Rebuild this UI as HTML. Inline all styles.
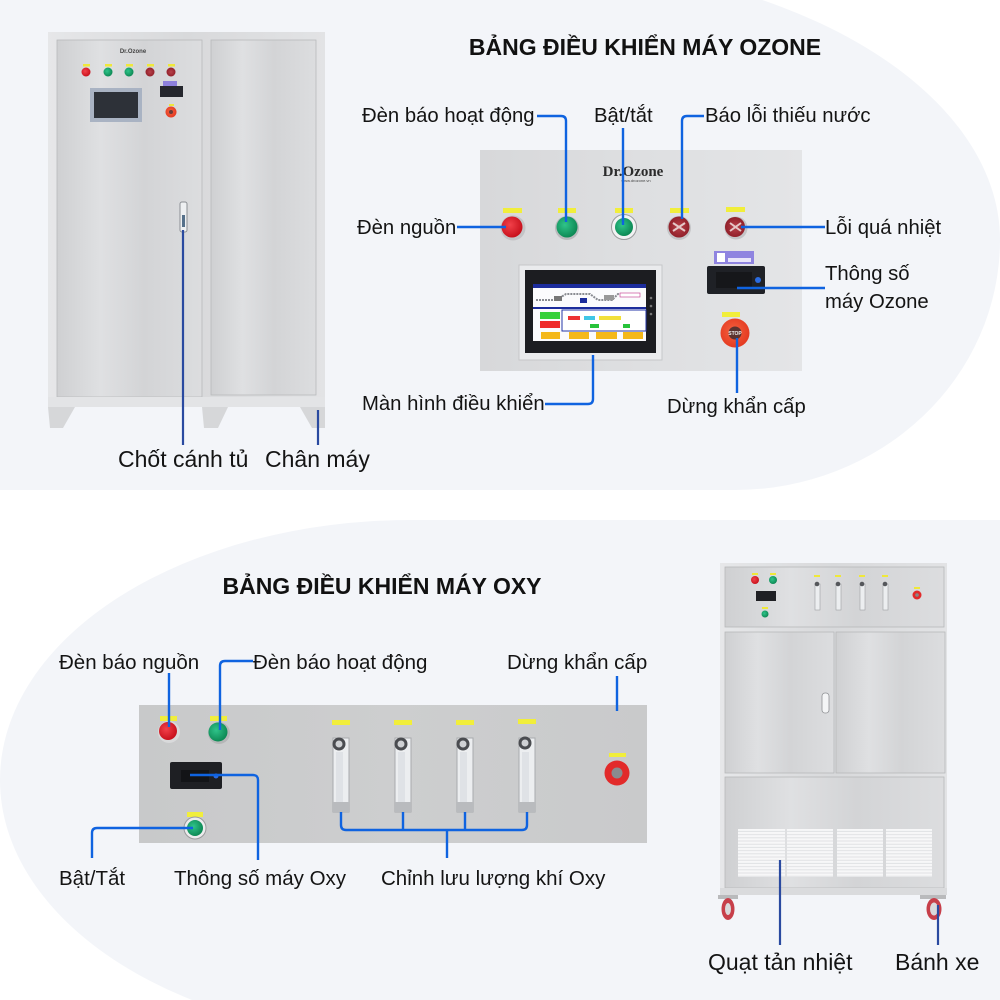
<!DOCTYPE html>
<html>
<head>
<meta charset="utf-8">
<style>
html,body{margin:0;padding:0;background:#ffffff;}
svg{display:block;}
text{font-family:"Liberation Sans",Arial,sans-serif;fill:#141414;}
</style>
</head>
<body>
<svg width="1000" height="1000" viewBox="0 0 1000 1000" xmlns="http://www.w3.org/2000/svg">
<defs>
  <linearGradient id="steel" x1="0" y1="0" x2="1" y2="0">
    <stop offset="0" stop-color="#cfd0d2"/>
    <stop offset="0.3" stop-color="#dfe0e2"/>
    <stop offset="0.6" stop-color="#d3d4d6"/>
    <stop offset="1" stop-color="#dcdddf"/>
  </linearGradient>
  <linearGradient id="frame" x1="0" y1="0" x2="1" y2="0">
    <stop offset="0" stop-color="#e6e7e9"/>
    <stop offset="0.5" stop-color="#d8d9db"/>
    <stop offset="1" stop-color="#e2e3e5"/>
  </linearGradient>
  <linearGradient id="panelTop" x1="0" y1="0" x2="1" y2="0">
    <stop offset="0" stop-color="#d7d8da"/>
    <stop offset="0.5" stop-color="#dedfe1"/>
    <stop offset="1" stop-color="#e4e5e7"/>
  </linearGradient>
  <linearGradient id="panelBot" x1="0" y1="0" x2="1" y2="0">
    <stop offset="0" stop-color="#c8c9ca"/>
    <stop offset="0.5" stop-color="#cdcecf"/>
    <stop offset="1" stop-color="#c9cacb"/>
  </linearGradient>
  <radialGradient id="red" cx="0.4" cy="0.4" r="0.6">
    <stop offset="0" stop-color="#f2414a"/>
    <stop offset="1" stop-color="#c9121d"/>
  </radialGradient>
  <radialGradient id="green" cx="0.4" cy="0.4" r="0.6">
    <stop offset="0" stop-color="#2fc48a"/>
    <stop offset="1" stop-color="#0e8a55"/>
  </radialGradient>
  <radialGradient id="dred" cx="0.5" cy="0.5" r="0.6">
    <stop offset="0" stop-color="#b8414a"/>
    <stop offset="1" stop-color="#8a1a24"/>
  </radialGradient>
  <radialGradient id="stop" cx="0.45" cy="0.45" r="0.6">
    <stop offset="0" stop-color="#f5623f"/>
    <stop offset="1" stop-color="#e3371f"/>
  </radialGradient>
  <pattern id="vent" width="10" height="3.2" patternUnits="userSpaceOnUse">
    <rect width="10" height="3.2" fill="#f7f7f8"/>
    <rect y="2.2" width="10" height="0.8" fill="#dcdde0"/>
  </pattern>
</defs>

<!-- backgrounds -->
<path d="M0,-40 H510 A490,280 0 0 1 1000,240 A265,250 0 0 1 735,490 H0 Z" fill="#f3f5f9"/>
<path d="M1000,520 H411 A411,260 0 0 0 0,780 A411,260 0 0 0 411,1040 H1000 Z" fill="#f3f5f9"/>

<!-- ================= TOP LEFT CABINET ================= -->
<rect x="48" y="32" width="277" height="375" fill="url(#frame)"/>
<rect x="57" y="40" width="145" height="357" fill="url(#steel)" stroke="#b8b9bb" stroke-width="0.8"/>
<rect x="211" y="40" width="105" height="355" fill="url(#steel)" stroke="#b8b9bb" stroke-width="0.8"/>
<rect x="48" y="397" width="277" height="10" fill="#e3e4e6"/>
<polygon points="48,407 75,407 63,428 50,428" fill="#d6d7d9"/>
<polygon points="202,407 228,407 218,428 204,428" fill="#d6d7d9"/>
<polygon points="300,407 325,407 325,428 312,428" fill="#d6d7d9"/>
<text x="133" y="53" font-size="6" text-anchor="middle" font-weight="bold" style="fill:#444">Dr.Ozone</text>
<!-- small buttons -->
<g>
  <rect x="83" y="64" width="7" height="2.5" fill="#efe83a"/>
  <rect x="105" y="64" width="7" height="2.5" fill="#efe83a"/>
  <rect x="126" y="64" width="7" height="2.5" fill="#efe83a"/>
  <rect x="147" y="64" width="7" height="2.5" fill="#efe83a"/>
  <rect x="168" y="64" width="7" height="2.5" fill="#efe83a"/>
  <circle cx="86" cy="72" r="4.5" fill="url(#red)"/>
  <circle cx="108" cy="72" r="4.5" fill="url(#green)"/>
  <circle cx="129" cy="72" r="4.5" fill="url(#green)"/>
  <circle cx="150" cy="72" r="4.5" fill="url(#dred)"/>
  <circle cx="171" cy="72" r="4.5" fill="url(#dred)"/>
</g>
<rect x="90" y="88" width="52" height="34" fill="#a9b3c3"/>
<rect x="94" y="92" width="44" height="26" fill="#2d3138"/>
<rect x="163" y="81" width="14" height="5" fill="#8d80dc"/>
<rect x="160" y="86" width="23" height="11" fill="#25272d"/>
<rect x="169" y="104" width="5" height="2" fill="#efe83a"/>
<circle cx="171" cy="112" r="5.5" fill="url(#stop)"/>
<circle cx="171" cy="112" r="2" fill="#6a3b38"/>
<rect x="180" y="202" width="7" height="30" rx="2" fill="#eef0f2" stroke="#8c8f94" stroke-width="1"/>
<rect x="182" y="215" width="3" height="12" fill="#55708a"/>
<!-- lines -->
<path d="M183,230 V445" stroke="#2a4aa0" stroke-width="2.2" fill="none"/>
<path d="M318,410 V445" stroke="#2a4aa0" stroke-width="2.2" fill="none"/>
<text x="118" y="467" font-size="23">Chốt cánh tủ</text>
<text x="265" y="467" font-size="23">Chân máy</text>

<!-- ================= TOP PANEL ================= -->
<text x="645" y="55" font-size="23" font-weight="bold" text-anchor="middle" style="fill:#111">BẢNG ĐIỀU KHIỂN MÁY OZONE</text>
<rect x="480" y="150" width="322" height="221" fill="url(#panelTop)"/>
<text x="633" y="176" font-size="15" font-weight="bold" text-anchor="middle" style="fill:#2b2b2b;font-family:'Liberation Serif',serif">Dr.Ozone</text>
<text x="636" y="182" font-size="4" text-anchor="middle" style="fill:#444">www.drozone.vn</text>
<!-- yellow labels -->
<rect x="503" y="208" width="19" height="5" fill="#f1ee3b"/>
<rect x="558" y="208" width="18" height="5" fill="#f1ee3b"/>
<rect x="615" y="208" width="18" height="5" fill="#f1ee3b"/>
<rect x="670" y="208" width="19" height="5" fill="#f1ee3b"/>
<rect x="726" y="207" width="19" height="5" fill="#f1ee3b"/>
<!-- buttons -->
<circle cx="513" cy="228" r="12.5" fill="#c3c4c6"/>
<circle cx="512" cy="227" r="10.5" fill="url(#red)"/>
<circle cx="567" cy="228" r="12" fill="#b9babc"/>
<circle cx="567" cy="227" r="10.5" fill="url(#green)"/>
<circle cx="624" cy="227" r="12.5" fill="#f2f2f3" stroke="#9b9c9e" stroke-width="1"/>
<circle cx="624" cy="227" r="9" fill="url(#green)"/>
<circle cx="679" cy="228" r="12" fill="#c4c5c7"/>
<circle cx="679" cy="227" r="10.5" fill="url(#dred)"/>
<path d="M673,223 L685,231 M673,231 L685,223" stroke="#e5c8c8" stroke-width="2"/>
<circle cx="736" cy="228" r="11.5" fill="#c4c5c7"/>
<circle cx="735" cy="227" r="10" fill="url(#dred)"/>
<path d="M730,223 L741,231 M730,231 L741,223" stroke="#e5c8c8" stroke-width="2"/>
<!-- HMI screen -->
<rect x="519" y="265" width="143" height="95" fill="#eaebed" stroke="#c6c7c9" stroke-width="1"/>
<rect x="525" y="270" width="131" height="83" fill="#1c1d21"/>
<rect x="533" y="284" width="113" height="57" fill="#fbfbfd"/>
<rect x="533" y="284" width="113" height="4" fill="#1c2c9c"/>
<path d="M536,300 H556 L566,294 H590 L598,300 H612 L618,294 H640" stroke="#8a8c92" stroke-width="2" fill="none" stroke-dasharray="2,1"/>
<rect x="554" y="296" width="8" height="5" fill="#777"/>
<rect x="580" y="298" width="7" height="5" fill="#1c2c9c"/>
<rect x="604" y="295" width="10" height="5" fill="#999"/>
<rect x="620" y="293" width="20" height="4" fill="#fff" stroke="#c0308a" stroke-width="0.6"/>
<rect x="533" y="307" width="113" height="2" fill="#1c2c9c"/>
<rect x="540" y="312" width="20" height="7" fill="#36d03a"/>
<rect x="540" y="321" width="20" height="7" fill="#ef2a2a"/>
<rect x="562" y="310" width="84" height="21" fill="#ffffff" stroke="#2637a8" stroke-width="1"/>
<rect x="568" y="316" width="12" height="4" fill="#e33"/>
<rect x="584" y="316" width="11" height="4" fill="#3fc6e6"/>
<rect x="599" y="316" width="22" height="4" fill="#f2e03a"/>
<rect x="590" y="324" width="9" height="4" fill="#27c33a"/>
<rect x="623" y="324" width="7" height="4" fill="#27c33a"/>
<rect x="541" y="332" width="19" height="7" fill="#f4b81a"/>
<rect x="569" y="332" width="20" height="7" fill="#f4b81a"/>
<rect x="596" y="332" width="21" height="7" fill="#f4b81a"/>
<rect x="623" y="332" width="20" height="7" fill="#f4b81a"/>
<circle cx="651" cy="298" r="1.3" fill="#777"/>
<circle cx="651" cy="306" r="1.3" fill="#777"/>
<circle cx="651" cy="314" r="1.3" fill="#777"/>
<!-- display device -->
<rect x="714" y="251" width="40" height="13" fill="#8f84e0"/>
<rect x="717" y="253" width="8" height="9" fill="#ffffff"/>
<rect x="728" y="258" width="23" height="4" fill="#ffffff" opacity="0.8"/>
<rect x="707" y="266" width="58" height="28" rx="2" fill="#1f2126"/>
<rect x="716" y="272" width="36" height="16" fill="#16171a"/>
<circle cx="758" cy="280" r="3" fill="#2a6be0"/>
<!-- stop -->
<rect x="722" y="312" width="18" height="5" fill="#f1ee3b"/>
<circle cx="735" cy="333" r="14.5" fill="url(#stop)"/>
<circle cx="735" cy="333" r="6.5" fill="#5b3330"/>
<text x="735" y="335" font-size="5" text-anchor="middle" font-weight="bold" style="fill:#eee">STOP</text>
<!-- top lines -->
<g stroke="#0f63e0" stroke-width="2.4" fill="none">
  <path d="M537,116 H561 Q566,116 566,121 V222"/>
  <path d="M623,128 V225"/>
  <path d="M704,116 H687 Q682,116 682,121 V219"/>
  <path d="M457,227 H506"/>
  <path d="M741,227 H825"/>
  <path d="M737,288 H825"/>
  <path d="M545,404 H588 Q593,404 593,399 V355"/>
  <path d="M737,338 V393"/>
</g>
<g font-size="20.3">
  <text x="362" y="122">Đèn báo hoạt động</text>
  <text x="594" y="122">Bật/tắt</text>
  <text x="705" y="122">Báo lỗi thiếu nước</text>
  <text x="357" y="234">Đèn nguồn</text>
  <text x="825" y="234">Lỗi quá nhiệt</text>
  <text x="825" y="280">Thông số</text>
  <text x="825" y="308">máy Ozone</text>
  <text x="362" y="410">Màn hình điều khiển</text>
  <text x="667" y="413">Dừng khẩn cấp</text>
</g>

<!-- ================= BOTTOM PANEL (OXY) ================= -->
<text x="382" y="594" font-size="23" font-weight="bold" text-anchor="middle" style="fill:#111">BẢNG ĐIỀU KHIỂN MÁY OXY</text>
<rect x="139" y="705" width="508" height="138" fill="url(#panelBot)"/>
<rect x="160" y="716" width="17" height="5" fill="#f1ee3b"/>
<rect x="210" y="716" width="17" height="5" fill="#f1ee3b"/>
<circle cx="169" cy="732" r="11" fill="#d9dadb"/>
<circle cx="168" cy="731" r="9" fill="url(#red)"/>
<circle cx="219" cy="733" r="11" fill="#b5b6b7"/>
<circle cx="218" cy="732" r="9.5" fill="url(#green)"/>
<rect x="170" y="762" width="52" height="27" rx="2" fill="#1e1f23"/>
<rect x="181" y="770" width="28" height="12" fill="#131417"/>
<circle cx="216" cy="776" r="2.5" fill="#2a6be0"/>
<rect x="187" y="812" width="16" height="5" fill="#f1ee3b"/>
<circle cx="195" cy="828" r="11" fill="#ececed" stroke="#9a9b9d" stroke-width="1"/>
<circle cx="195" cy="828" r="8" fill="url(#green)"/>
<!-- flowmeters -->
<g>
  <rect x="332" y="720" width="18" height="5" fill="#f1ee3b"/>
  <rect x="394" y="720" width="18" height="5" fill="#f1ee3b"/>
  <rect x="456" y="720" width="18" height="5" fill="#f1ee3b"/>
  <rect x="518" y="719" width="18" height="5" fill="#f1ee3b"/>
  <rect x="333" y="738" width="16" height="74" fill="#eceef0" stroke="#a9abae" stroke-width="1"/>
  <rect x="395" y="738" width="16" height="74" fill="#eceef0" stroke="#a9abae" stroke-width="1"/>
  <rect x="457" y="738" width="16" height="74" fill="#eceef0" stroke="#a9abae" stroke-width="1"/>
  <rect x="519" y="738" width="16" height="74" fill="#eceef0" stroke="#a9abae" stroke-width="1"/>
  <rect x="336" y="752" width="7" height="50" fill="#dfe2e6"/>
  <rect x="398" y="752" width="7" height="50" fill="#dfe2e6"/>
  <rect x="460" y="752" width="7" height="50" fill="#dfe2e6"/>
  <rect x="522" y="752" width="7" height="50" fill="#dfe2e6"/>
  <rect x="333" y="802" width="16" height="10" fill="#b9bbbe"/>
  <rect x="395" y="802" width="16" height="10" fill="#b9bbbe"/>
  <rect x="457" y="802" width="16" height="10" fill="#b9bbbe"/>
  <rect x="519" y="802" width="16" height="10" fill="#b9bbbe"/>
  <circle cx="339" cy="744" r="6.5" fill="#4a4c50"/><circle cx="339" cy="744" r="3.5" fill="#cfd1d4"/>
  <circle cx="401" cy="744" r="6.5" fill="#4a4c50"/><circle cx="401" cy="744" r="3.5" fill="#cfd1d4"/>
  <circle cx="463" cy="744" r="6.5" fill="#4a4c50"/><circle cx="463" cy="744" r="3.5" fill="#cfd1d4"/>
  <circle cx="525" cy="743" r="6.5" fill="#4a4c50"/><circle cx="525" cy="743" r="3.5" fill="#cfd1d4"/>
</g>
<rect x="609" y="753" width="17" height="4" fill="#f1ee3b"/>
<circle cx="617" cy="773" r="12.5" fill="#e22a2a"/>
<circle cx="617" cy="773" r="5.5" fill="#8a8b8e"/>
<!-- bottom lines -->
<g stroke="#0f63e0" stroke-width="2.4" fill="none">
  <path d="M169,673 V727"/>
  <path d="M253,661 H225 Q220,661 220,666 V730"/>
  <path d="M617,676 V711"/>
  <path d="M92,858 V833 Q92,828 97,828 H193"/>
  <path d="M190,775 H253 Q258,775 258,780 V860"/>
  <path d="M341,812 V825 Q341,830 346,830 H522 Q527,830 527,825 V812"/>
  <path d="M403,812 V830"/>
  <path d="M465,812 V830"/>
  <path d="M447,830 V858"/>
</g>
<g font-size="20.5">
  <text x="59" y="669">Đèn báo nguồn</text>
  <text x="253" y="669">Đèn báo hoạt động</text>
  <text x="507" y="669">Dừng khẩn cấp</text>
  <text x="59" y="885">Bật/Tắt</text>
  <text x="174" y="885">Thông số máy Oxy</text>
  <text x="381" y="885">Chỉnh lưu lượng khí Oxy</text>
</g>

<!-- ================= RIGHT CABINET (OXY) ================= -->
<rect x="720" y="563" width="227" height="332" fill="url(#frame)"/>
<rect x="725" y="567" width="219" height="60" fill="url(#steel)" stroke="#b7b8ba" stroke-width="0.8"/>
<rect x="725" y="632" width="109" height="141" fill="url(#steel)" stroke="#b7b8ba" stroke-width="0.8"/>
<rect x="836" y="632" width="109" height="141" fill="url(#steel)" stroke="#b7b8ba" stroke-width="0.8"/>
<rect x="725" y="777" width="219" height="111" fill="url(#steel)" stroke="#b7b8ba" stroke-width="0.8"/>
<rect x="720" y="888" width="227" height="7" fill="#dadbdd"/>
<!-- top panel parts -->
<rect x="752" y="573" width="6" height="2" fill="#efe83a"/>
<rect x="770" y="573" width="6" height="2" fill="#efe83a"/>
<circle cx="755" cy="580" r="4" fill="url(#red)"/>
<circle cx="773" cy="580" r="4" fill="url(#green)"/>
<rect x="756" y="591" width="20" height="10" fill="#1f2024"/>
<rect x="762" y="607" width="6" height="2" fill="#efe83a"/>
<circle cx="765" cy="614" r="3.5" fill="url(#green)"/>
<g fill="#eceef0" stroke="#9d9fa2" stroke-width="0.6">
  <rect x="815" y="584" width="5" height="26"/>
  <rect x="836" y="584" width="5" height="26"/>
  <rect x="860" y="584" width="5" height="26"/>
  <rect x="883" y="584" width="5" height="26"/>
</g>
<g fill="#55575b">
  <circle cx="817" cy="584" r="2.3"/>
  <circle cx="838" cy="584" r="2.3"/>
  <circle cx="862" cy="584" r="2.3"/>
  <circle cx="885" cy="584" r="2.3"/>
</g>
<g fill="#efe83a">
  <rect x="814" y="575" width="6" height="2"/>
  <rect x="835" y="575" width="6" height="2"/>
  <rect x="859" y="575" width="6" height="2"/>
  <rect x="882" y="575" width="6" height="2"/>
  <rect x="914" y="587" width="6" height="2"/>
</g>
<circle cx="917" cy="595" r="4.5" fill="#e22a2a"/>
<circle cx="917" cy="595" r="1.8" fill="#888"/>
<rect x="822" y="693" width="7" height="20" rx="3" fill="#f4f5f6" stroke="#8f9194" stroke-width="0.8"/>
<!-- vents -->
<rect x="738" y="829" width="47" height="48" fill="url(#vent)"/>
<rect x="787" y="829" width="46" height="48" fill="url(#vent)"/>
<rect x="837" y="829" width="46" height="48" fill="url(#vent)"/>
<rect x="886" y="829" width="46" height="48" fill="url(#vent)"/>
<!-- wheels -->
<rect x="718" y="895" width="20" height="4" fill="#b9babc"/>
<ellipse cx="728" cy="909" rx="6.5" ry="11" fill="#c73f4a"/>
<ellipse cx="728" cy="909" rx="3" ry="6" fill="#d9d9db"/>
<rect x="920" y="895" width="26" height="4" fill="#b9babc"/>
<ellipse cx="934" cy="909" rx="7.5" ry="11" fill="#c73f4a"/>
<ellipse cx="934" cy="909" rx="4" ry="6.5" fill="#d9d9db"/>
<path d="M780,860 V945" stroke="#2a4aa0" stroke-width="2.2" fill="none"/>
<path d="M938,905 V945" stroke="#2a4aa0" stroke-width="2.2" fill="none"/>
<text x="708" y="970" font-size="23">Quạt tản nhiệt</text>
<text x="895" y="970" font-size="23">Bánh xe</text>
</svg>
</body>
</html>
